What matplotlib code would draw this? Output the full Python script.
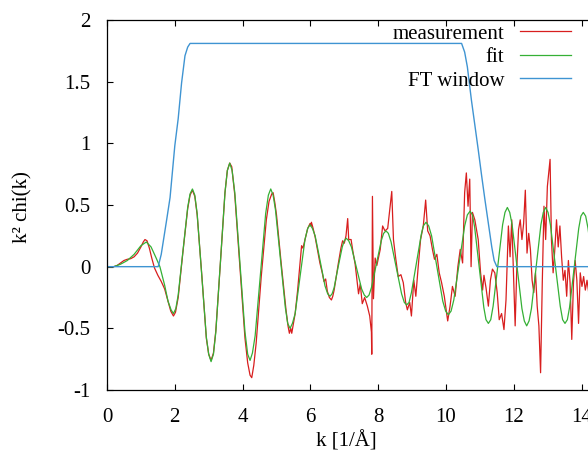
import matplotlib
matplotlib.use("Agg")
import matplotlib.pyplot as plt

plt.rcParams["font.family"] = ["Liberation Serif", "DejaVu Serif"]
plt.rcParams["axes.unicode_minus"] = False

meas_pts = [
    (0.0, 0.0), (0.2, 0.0), (0.3, 0.01), (0.4, 0.03), (0.5, 0.05), (0.6, 0.06), (0.7, 0.065),
    (0.8, 0.08), (0.9, 0.11), (1.0, 0.16), (1.07, 0.20), (1.12, 0.22), (1.18, 0.21), (1.25, 0.15),
    (1.32, 0.07), (1.4, -0.01), (1.5, -0.07), (1.6, -0.12), (1.7, -0.18), (1.8, -0.28), (1.88, -0.36),
    (1.96, -0.40), (2.02, -0.37), (2.1, -0.25), (2.24, 0.12), (2.38, 0.47), (2.45, 0.58), (2.52, 0.62),
    (2.59, 0.57), (2.66, 0.42), (2.8, -0.08), (2.93, -0.58), (3.0, -0.71), (3.07, -0.76), (3.14, -0.70),
    (3.21, -0.52), (3.345, 0.03), (3.48, 0.60), (3.55, 0.78), (3.62, 0.84), (3.68, 0.81), (3.77, 0.58),
    (3.92, 0.0), (4.07, -0.58), (4.15, -0.78), (4.22, -0.88), (4.27, -0.90), (4.33, -0.80), (4.4, -0.62),
    (4.55, -0.08), (4.7, 0.38), (4.78, 0.53), (4.86, 0.59), (4.9, 0.60), (4.95, 0.52), (5.0, 0.42),
    (5.13, 0.05), (5.28, -0.35), (5.34, -0.48), (5.38, -0.54), (5.42, -0.50), (5.45, -0.54), (5.5, -0.46),
    (5.55, -0.38), (5.62, -0.20), (5.7, 0.05), (5.74, 0.17), (5.78, 0.15), (5.85, 0.23), (5.92, 0.31),
    (5.99, 0.35), (6.01, 0.33), (6.03, 0.36), (6.08, 0.31), (6.14, 0.24), (6.28, 0.03), (6.35, -0.05),
    (6.4, -0.12), (6.45, -0.10), (6.5, -0.20), (6.56, -0.25), (6.62, -0.27), (6.66, -0.24), (6.7, -0.19),
    (6.82, 0.02), (6.9, 0.15), (6.95, 0.21), (7.0, 0.19), (7.05, 0.25), (7.1, 0.39), (7.13, 0.22),
    (7.2, 0.22), (7.25, 0.13), (7.32, 0.02), (7.42, -0.22), (7.47, -0.14), (7.53, -0.30), (7.6, -0.25),
    (7.68, -0.32), (7.75, -0.40), (7.8, -0.53), (7.81, -0.71), (7.83, 0.57), (7.86, -0.26), (7.91, 0.07),
    (7.96, 0.01), (8.06, 0.14), (8.13, 0.33), (8.2, 0.29), (8.28, 0.31), (8.4, 0.61), (8.45, 0.22),
    (8.52, 0.06), (8.59, -0.08), (8.67, -0.065), (8.74, -0.13), (8.81, -0.29), (8.86, -0.35), (8.93, -0.29),
    (8.98, -0.40), (9.05, -0.11), (9.11, -0.24), (9.18, 0.0), (9.25, 0.22), (9.33, 0.33), (9.4, 0.54),
    (9.46, 0.29), (9.53, 0.25), (9.6, 0.14), (9.66, 0.06), (9.73, 0.10), (9.8, -0.05), (9.87, -0.13),
    (9.95, -0.24), (10.05, -0.44), (10.12, -0.32), (10.19, -0.16), (10.27, -0.24), (10.35, 0.0),
    (10.42, 0.14), (10.49, 0.03), (10.55, 0.60), (10.6, 0.76), (10.65, 0.49), (10.7, 0.71), (10.74, 0.0),
    (10.78, 0.44), (10.85, 0.38), (10.95, 0.22), (11.02, -0.05), (11.08, -0.19), (11.12, -0.07),
    (11.18, -0.17), (11.25, -0.32), (11.31, -0.11), (11.37, -0.02), (11.44, -0.05), (11.51, -0.21),
    (11.57, -0.43), (11.64, -0.38), (11.71, -0.51), (11.77, -0.27), (11.84, 0.33), (11.89, 0.08),
    (11.94, 0.38), (11.99, -0.05), (12.04, -0.48), (12.09, 0.0), (12.14, 0.30), (12.19, 0.38),
    (12.24, 0.22), (12.29, 0.35), (12.34, 0.62), (12.39, 0.11), (12.44, 0.27), (12.49, 0.14),
    (12.54, -0.11), (12.59, -0.21), (12.64, -0.05), (12.69, -0.32), (12.74, -0.48), (12.79, -0.86),
    (12.84, -0.13), (12.89, 0.49), (12.94, 0.22), (12.99, 0.65), (13.04, 0.79), (13.07, 0.87),
    (13.11, 0.22), (13.16, -0.05), (13.21, 0.14), (13.26, 0.38), (13.31, 0.16), (13.36, 0.33),
    (13.41, 0.08), (13.46, -0.11), (13.51, -0.03), (13.56, -0.24), (13.61, 0.05), (13.66, -0.13),
    (13.71, -0.59), (13.76, -0.13), (13.81, 0.05), (13.86, -0.11), (13.91, -0.46), (13.96, -0.05),
    (14.01, -0.16), (14.06, -0.08), (14.11, -0.19), (14.16, -0.11), (14.21, -0.21), (14.3, -0.10),
    (14.4, -0.20),
]

# fitted k^2 chi(k)
fit_pts = [
    (0.0, 0.0), (0.2, 0.0), (0.4, 0.02), (0.6, 0.05), (0.8, 0.10), (1.0, 0.17), (1.16, 0.20),
    (1.3, 0.16), (1.45, 0.07), (1.56, 0.0), (1.7, -0.15), (1.8, -0.28), (1.89, -0.35), (1.96, -0.38),
    (2.03, -0.34), (2.1, -0.23), (2.24, 0.125), (2.38, 0.48), (2.45, 0.59), (2.52, 0.63), (2.59, 0.58),
    (2.66, 0.43), (2.795, -0.07), (2.93, -0.57), (3.0, -0.71), (3.07, -0.77), (3.14, -0.71), (3.21, -0.53),
    (3.345, 0.035), (3.48, 0.60), (3.55, 0.78), (3.62, 0.84), (3.69, 0.78), (3.77, 0.60), (3.92, 0.04),
    (4.07, -0.53), (4.15, -0.71), (4.22, -0.76), (4.29, -0.70), (4.37, -0.56), (4.525, -0.065),
    (4.68, 0.43), (4.76, 0.58), (4.83, 0.63), (4.9, 0.58), (4.97, 0.46), (5.115, 0.065), (5.26, -0.33),
    (5.33, -0.46), (5.4, -0.50), (5.47, -0.46), (5.55, -0.38), (5.695, -0.08), (5.84, 0.22),
    (5.92, 0.31), (5.99, 0.34), (6.06, 0.31), (6.14, 0.25), (6.285, 0.05), (6.43, -0.155),
    (6.51, -0.22), (6.58, -0.24), (6.64, -0.22), (6.7, -0.17), (6.82, 0.0), (6.94, 0.16), (7.0, 0.21),
    (7.06, 0.23), (7.13, 0.21), (7.21, 0.16), (7.36, -0.01), (7.51, -0.18), (7.59, -0.23), (7.66, -0.25),
    (7.73, -0.23), (7.8, -0.17), (7.945, 0.02), (8.09, 0.21), (8.16, 0.27), (8.23, 0.29), (8.3, 0.27),
    (8.38, 0.20), (8.535, -0.01), (8.69, -0.22), (8.77, -0.29), (8.84, -0.31), (8.91, -0.29),
    (8.98, -0.21), (9.125, 0.025), (9.27, 0.26), (9.33, 0.33), (9.41, 0.36), (9.49, 0.33), (9.575, 0.25),
    (9.74, -0.015), (9.905, -0.28), (9.99, -0.36), (10.07, -0.39), (10.15, -0.36), (10.23, -0.27),
    (10.39, 0.03), (10.55, 0.33), (10.63, 0.42), (10.71, 0.45), (10.78, 0.42), (10.845, 0.32),
    (10.98, -0.005), (11.115, -0.33), (11.18, -0.43), (11.25, -0.46), (11.32, -0.43), (11.39, -0.32),
    (11.53, 0.01), (11.67, 0.34), (11.74, 0.44), (11.81, 0.48), (11.88, 0.44), (11.95, 0.34),
    (12.095, 0.0), (12.24, -0.34), (12.31, -0.44), (12.38, -0.48), (12.45, -0.44), (12.52, -0.34),
    (12.66, 0.0), (12.8, 0.34), (12.87, 0.44), (12.94, 0.48), (13.01, 0.44), (13.08, 0.34),
    (13.225, 0.01), (13.37, -0.32), (13.44, -0.43), (13.51, -0.46), (13.58, -0.43), (13.645, -0.33),
    (13.78, -0.01), (13.915, 0.31), (13.98, 0.41), (14.05, 0.44), (14.12, 0.41), (14.19, 0.31),
    (14.33, 0.01), (14.46, -0.29), (14.53, -0.39), (14.6, -0.42),
]

# Fourier transform window
win_k = [0.0, 1.51, 1.6, 1.76, 1.86, 2.0, 2.1, 2.2, 2.3, 2.38, 2.45, 10.46, 10.55, 10.63,
         10.75, 10.85, 10.95, 11.05, 11.15, 11.25, 11.35, 11.42, 11.5, 16.0]
win_v = [0.0, 0.0, 0.1, 0.38, 0.56, 0.98, 1.2, 1.49, 1.71, 1.78, 1.81, 1.81, 1.74, 1.62,
         1.35, 1.15, 0.95, 0.74, 0.54, 0.35, 0.16, 0.05, 0.0, 0.0]

meas_k, meas_v = zip(*meas_pts)
fit_k, fit_v = zip(*fit_pts)

W, H = 588, 455
fig = plt.figure(figsize=(W / 100, H / 100), dpi=100)
ax = fig.add_axes([107 / W, 65 / H, 542.4 / W, 370 / H])

ax.plot(meas_k, meas_v, color="#d81e1e", lw=0.9, label="measurement")
ax.plot(fit_k, fit_v, color="#35b035", lw=0.9, label="fit")
ax.plot(win_k, win_v, color="#3f94d2", lw=1.0, label="FT window")

ax.set_xlim(0, 16)
ax.set_ylim(-1, 2)
ax.set_xticks(range(0, 17, 2))
ax.set_yticks([-1, -0.5, 0, 0.5, 1, 1.5, 2])
ax.set_yticklabels(["-1", "-0.5", "0", "0.5", "1", "1.5", "2"])
ax.tick_params(direction="in", length=4, width=0.8, top=True, labelsize=15)
ax.tick_params(axis="y", pad=12)
ax.tick_params(axis="x", pad=13)
for s in ax.spines.values():
    s.set_linewidth(0.9)

fig.text(346 / W, 1 - 441 / H, "k [1/Å]", ha="center", va="center", fontsize=15)
fig.text(23 / W, 1 - 207 / H, "k² chi(k)", ha="center", va="center", rotation=90, fontsize=15)

ax.legend(loc="upper right", bbox_to_anchor=(571 / W, 1 - 24 / H),
          bbox_transform=fig.transFigure, frameon=False, markerfirst=False,
          fontsize=15, handlelength=2.45, handletextpad=0.75, borderpad=0,
          borderaxespad=0, labelspacing=0.19)

fig.savefig("out.png", dpi=100)
